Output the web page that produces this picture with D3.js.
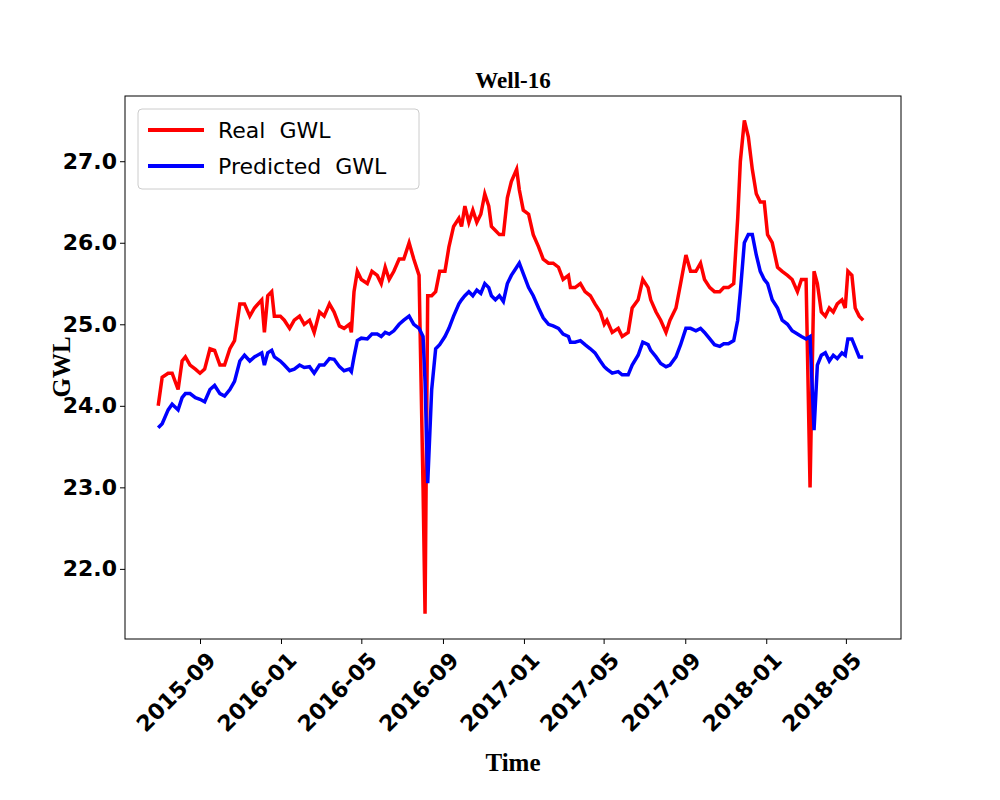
<!DOCTYPE html>
<html>
<head>
<meta charset="utf-8">
<script src="https://cdn.jsdelivr.net/npm/d3@7"></script>
<style>
  body { margin: 0; background: #fff; }
</style>
</head>
<body>
<svg id="chart" width="1000" height="800"></svg>
<script>
// days since 2015-09-01 for each observation
const days = [-63,-57,-48,-42,-33,-27,-22,-15,-7,0,7,15,22,30,37,45,52,60,67,75,82,93,97,102,108,112,121,127,135,142,150,157,165,172,180,187,195,202,210,217,225,228,232,237,243,252,259,267,273,279,285,292,300,307,315,322,330,336,339,343,349,355,361,369,375,382,390,394,399,405,411,417,423,429,435,439,445,451,457,463,469,477,481,487,495,502,510,517,525,532,540,547,555,558,565,573,580,588,595,603,609,613,621,630,636,645,651,660,667,675,679,687,694,702,708,717,724,732,739,747,754,760,768,775,783,789,796,804,810,814,820,826,832,838,844,850,855,862,870,877,885,892,900,906,913,919,925,930,936,942,948,954,960,967,972,976,982,987,993,999];

const realGWL = [24.0,24.35,24.4,24.4,24.2,24.55,24.6,24.5,24.45,24.4,24.45,24.7,24.68,24.5,24.5,24.7,24.8,25.25,25.25,25.1,25.2,25.3,24.9,25.35,25.4,25.1,25.1,25.05,24.95,25.05,25.1,25.0,25.05,24.9,25.15,25.1,25.25,25.15,24.98,24.95,25.0,24.9,25.4,25.65,25.55,25.5,25.65,25.6,25.5,25.7,25.55,25.65,25.8,25.8,26.0,25.8,25.6,23.0,21.45,25.35,25.35,25.4,25.65,25.65,25.95,26.2,26.3,26.2,26.45,26.25,26.4,26.25,26.35,26.6,26.45,26.2,26.15,26.1,26.1,26.55,26.75,26.9,26.65,26.4,26.35,26.1,25.95,25.8,25.75,25.75,25.7,25.55,25.6,25.45,25.45,25.5,25.4,25.35,25.25,25.15,25.0,25.05,24.9,24.95,24.85,24.9,25.2,25.3,25.55,25.45,25.3,25.15,25.05,24.9,25.05,25.2,25.5,25.85,25.65,25.65,25.75,25.55,25.45,25.4,25.4,25.45,25.45,25.5,26.3,27.0,27.5,27.3,26.9,26.6,26.5,26.5,26.1,26.0,25.7,25.65,25.6,25.55,25.4,25.55,25.55,23.0,25.65,25.5,25.15,25.1,25.2,25.15,25.25,25.3,25.2,25.65,25.6,25.2,25.1,25.05];

const predGWL = [23.73,23.78,23.95,24.02,23.95,24.1,24.15,24.15,24.1,24.08,24.05,24.2,24.25,24.15,24.12,24.2,24.3,24.55,24.62,24.55,24.6,24.65,24.5,24.65,24.68,24.6,24.55,24.5,24.43,24.45,24.5,24.47,24.48,24.4,24.5,24.5,24.58,24.57,24.48,24.43,24.45,24.42,24.6,24.8,24.83,24.82,24.88,24.88,24.85,24.9,24.88,24.92,25.0,25.05,25.1,25.0,24.95,24.85,24.3,23.05,24.2,24.7,24.75,24.85,24.95,25.1,25.25,25.3,25.35,25.4,25.35,25.42,25.38,25.5,25.45,25.35,25.3,25.35,25.28,25.5,25.6,25.7,25.75,25.62,25.45,25.35,25.2,25.08,25.0,24.98,24.95,24.88,24.85,24.78,24.78,24.8,24.75,24.7,24.65,24.55,24.48,24.45,24.4,24.42,24.38,24.38,24.5,24.62,24.78,24.75,24.68,24.6,24.52,24.48,24.5,24.6,24.75,24.95,24.95,24.92,24.95,24.9,24.82,24.75,24.73,24.76,24.76,24.8,25.05,25.4,26.0,26.1,26.1,25.85,25.65,25.55,25.5,25.3,25.2,25.05,25.0,24.92,24.88,24.85,24.82,24.85,23.7,24.5,24.62,24.65,24.55,24.62,24.58,24.65,24.62,24.82,24.82,24.72,24.6,24.6];

const yTicks = [22, 23, 24, 25, 26, 27];
const xTickLabels = ["2015-09","2016-01","2016-05","2016-09","2017-01","2017-05","2017-09","2018-01","2018-05"];

const base = new Date(2015, 8, 1);
const toDate = d => d3.timeDay.offset(base, d);

const margin = {top: 96, right: 99, bottom: 161, left: 125};
const width = 1000, height = 800;
const svg = d3.select("#chart");

const x = d3.scaleTime()
    .domain([toDate(-113), toDate(1056)])
    .range([margin.left, width - margin.right]);
const y = d3.scaleLinear()
    .domain([21.14, 27.8])
    .range([height - margin.bottom, margin.top]);

const line = vals => d3.line()
    .x((d, i) => x(toDate(days[i])))
    .y(d => y(d))(vals);

svg.append("path").attr("d", line(realGWL))
    .attr("fill", "none").attr("stroke", "#ff0000").attr("stroke-width", 3.5);
svg.append("path").attr("d", line(predGWL))
    .attr("fill", "none").attr("stroke", "#0000ff").attr("stroke-width", 3.5);

// axes
const tickDates = xTickLabels.map(s => d3.timeParse("%Y-%m")(s));
const xAxis = svg.append("g")
    .attr("transform", `translate(0,${height - margin.bottom})`)
    .call(d3.axisBottom(x).tickValues(tickDates).tickFormat(d3.timeFormat("%Y-%m")).tickSize(5).tickSizeOuter(0));
xAxis.selectAll("text")
    .attr("transform", "rotate(-45)")
    .attr("text-anchor", "end")
    .attr("dx", "-0.2em").attr("dy", "0.9em");

const yAxis = svg.append("g")
    .attr("transform", `translate(${margin.left},0)`)
    .call(d3.axisLeft(y).tickValues(yTicks).tickSize(5).tickSizeOuter(0));

svg.selectAll(".domain").remove();
svg.selectAll(".tick line").attr("stroke", "#000").attr("stroke-width", 1);
svg.selectAll(".tick text")
    .attr("fill", "#000")
    .style("font", "bold 22px 'DejaVu Sans', sans-serif");

svg.append("rect")
    .attr("x", margin.left).attr("y", margin.top)
    .attr("width", width - margin.left - margin.right)
    .attr("height", height - margin.top - margin.bottom)
    .attr("fill", "none").attr("stroke", "#000").attr("stroke-width", 1);

// titles
svg.append("text").attr("x", 513).attr("y", 88).attr("text-anchor", "middle")
    .style("font", "bold 23px 'Liberation Serif', serif").text("Well-16");
svg.append("text").attr("x", 513).attr("y", 771).attr("text-anchor", "middle")
    .style("font", "bold 25px 'Liberation Serif', serif").text("Time");
svg.append("text").attr("transform", "translate(70,367) rotate(-90)").attr("text-anchor", "middle")
    .style("font", "bold 25px 'Liberation Serif', serif").text("GWL");

// legend
const legend = svg.append("g");
legend.append("rect").attr("x", 138).attr("y", 109).attr("width", 281).attr("height", 80)
    .attr("rx", 4).attr("fill", "#fff").attr("stroke", "#ccc");
[["Real  GWL", "#ff0000"], ["Predicted  GWL", "#0000ff"]].forEach(([label, c], i) => {
  const ly = 130 + i * 36;
  legend.append("line").attr("x1", 148).attr("x2", 204).attr("y1", ly).attr("y2", ly)
      .attr("stroke", c).attr("stroke-width", 4);
  legend.append("text").attr("x", 218).attr("y", ly + 8)
      .style("font", "22px 'DejaVu Sans', sans-serif").style("white-space", "pre").text(label);
});
</script>
</body>
</html>
